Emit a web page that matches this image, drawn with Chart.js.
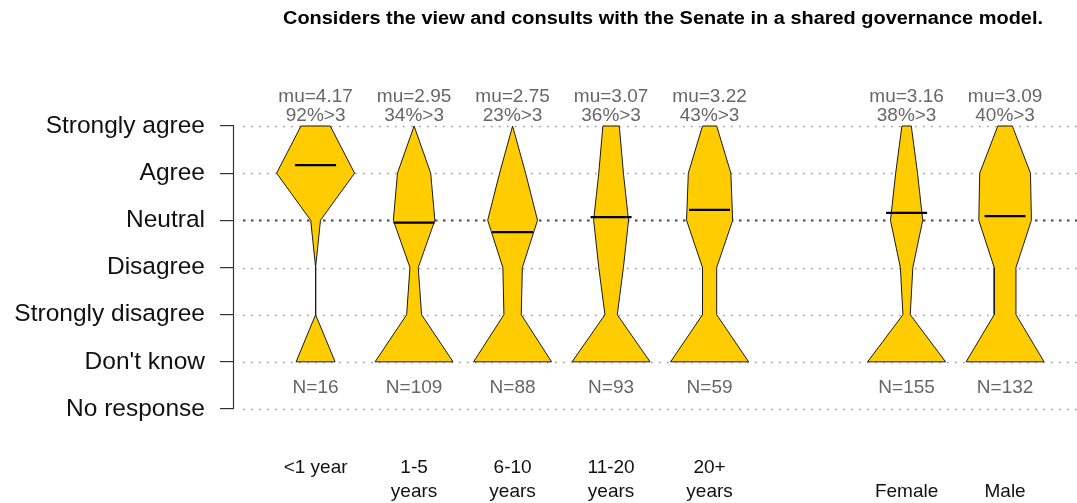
<!DOCTYPE html>
<html><head><meta charset="utf-8">
<script src="https://cdn.jsdelivr.net/npm/chart.js@4/dist/chart.umd.min.js"></script>
<style>html,body{margin:0;padding:0;background:#fff;} #wrap{width:1077px;height:503px;position:relative;}</style>
</head><body><div id="wrap"><canvas id="c" width="1077" height="503"></canvas></div>
<script>
const chartTitle = 'Considers the view and consults with the Senate in a shared governance model.';
const levelLabels = ['No response', "Don't know", 'Strongly disagree', 'Disagree', 'Neutral', 'Agree', 'Strongly agree'];
const levelValues = [-1, 0, 1, 2, 3, 4, 5];
const categories = ['<1 year', '1-5\nyears', '6-10\nyears', '11-20\nyears', '20+\nyears', '\nFemale', '\nMale'];
const xPositions = [1, 2, 3, 4, 5, 7, 8];
const countDontKnow = [4, 47, 36, 38, 22, 75, 43];
const countStronglyDisagree = [0, 9, 8, 6, 4, 7, 12];
const countDisagree = [0, 5, 9, 12, 4, 12, 12];
const countNeutral = [1, 25, 23, 17, 13, 31, 29];
const countAgree = [8, 20, 12, 12, 12, 21, 28];
const countStronglyAgree = [3, 0, 0, 8, 4, 9, 8];
const means = [4.17, 2.95, 2.75, 3.07, 3.22, 3.16, 3.09];
const pctAbove3 = [92, 34, 23, 36, 43, 38, 40];
const nTotal = [16, 109, 88, 93, 59, 155, 132];

const MAXW = 0.396;   // half-width of widest level, in x units
const MEANW = 0.208;  // half-width of mean bar
const FONT = "'Liberation Sans', Arial, Helvetica, sans-serif";

const datasets = [];
xPositions.forEach((xc, i) => {
  const counts = [countDontKnow[i], countStronglyDisagree[i], countDisagree[i], countNeutral[i], countAgree[i], countStronglyAgree[i]];
  const maxC = Math.max(...counts);
  const hw = counts.map(c => MAXW * c / maxC);
  const pts = [];
  for (let l = 5; l >= 0; l--) pts.push({x: xc - hw[l], y: l});
  for (let l = 0; l <= 5; l++) pts.push({x: xc + hw[l], y: l});
  pts.push({x: xc - hw[5], y: 5});
  datasets.push({
    data: pts, borderColor: '#1a1a1a', borderWidth: 1, backgroundColor: '#FFCC00',
    fill: 'shape', pointRadius: 0, tension: 0, order: 2
  });
});
xPositions.forEach((xc, i) => {
  datasets.push({
    data: [{x: xc - MEANW, y: means[i]}, {x: xc + MEANW, y: means[i]}],
    borderColor: '#000', borderWidth: 2.2, fill: false, pointRadius: 0, order: 1
  });
});

const decor = {
  id: 'decor',
  beforeDatasetsDraw(chart) {
    const {ctx, scales: {y}} = chart;
    ctx.save();
    levelValues.forEach(v => {
      const py = Math.round(y.getPixelForValue(v)) + 0.5;
      const neutral = v === 3;
      ctx.beginPath();
      ctx.setLineDash(neutral ? [2.5, 5.5] : [1.6, 6.4]);
      ctx.strokeStyle = neutral ? '#444' : '#9a9a9a';
      ctx.lineWidth = neutral ? 2 : 1.3;
      ctx.moveTo(243, py); ctx.lineTo(1077, py);
      ctx.stroke();
    });
    ctx.restore();
  },
  afterDraw(chart) {
    const {ctx, chartArea, scales: {x, y}} = chart;
    ctx.save();
    ctx.beginPath();
    ctx.strokeStyle = '#333'; ctx.lineWidth = 1.2;
    const ax = Math.round(chartArea.left) - 0.5;
    ctx.moveTo(ax, y.getPixelForValue(5)); ctx.lineTo(ax, y.getPixelForValue(-1));
    ctx.stroke();
    ctx.font = 'bold 18px ' + FONT;
    const w = ctx.measureText(chartTitle).width;
    ctx.translate(663, 19);
    ctx.scale(760 / w, 1);
    ctx.fillStyle = '#000'; ctx.textAlign = 'center'; ctx.textBaseline = 'middle';
    ctx.fillText(chartTitle, 0, 0);
    ctx.restore();
    ctx.save();
    ctx.font = '19px ' + FONT; ctx.fillStyle = '#666'; ctx.textAlign = 'center'; ctx.textBaseline = 'middle';
    xPositions.forEach((xc, i) => {
      const px = x.getPixelForValue(xc);
      ctx.fillText('mu=' + means[i].toFixed(2), px, 97);
      ctx.fillText(pctAbove3[i] + '%>3', px, 116);
      ctx.fillText('N=' + nTotal[i], px, 388);
    });
    ctx.restore();
  }
};

new Chart(document.getElementById('c'), {
  type: 'line',
  data: {datasets},
  plugins: [decor],
  options: {
    responsive: false, animation: false,
    layout: {padding: {top: 83.5, left: 0, right: 0, bottom: 0}},
    plugins: {legend: {display: false}, tooltip: {enabled: false}, title: {display: false}},
    scales: {
      x: {
        type: 'linear', min: 0.1716, max: 8.730,
        border: {display: false}, grid: {display: false, drawTicks: false},
        afterBuildTicks: s => { s.ticks = xPositions.map(v => ({value: v})); },
        afterFit: s => { s.height = 63; s.paddingLeft = 0; s.paddingRight = 0; },
        ticks: {
          autoSkip: false, maxRotation: 0, minRotation: 0, padding: 16, color: '#111',
          font: {family: FONT, size: 19, lineHeight: 1.26},
          callback: (v, i) => categories[i].split('\n')
        }
      },
      y: {
        type: 'linear', min: -1.657, max: 5.901,
        border: {display: false},
        grid: {drawOnChartArea: false, drawTicks: true, tickLength: 14, color: '#333', lineWidth: 1.2},
        afterBuildTicks: s => { s.ticks = levelValues.map(v => ({value: v})); },
        afterFit: s => { s.width = 234; s.paddingTop = 0; s.paddingBottom = 0; },
        ticks: {
          padding: 15, color: '#111', font: {family: FONT, size: 24.5},
          callback: (v, i) => levelLabels[i]
        }
      }
    }
  }
});
</script></body></html>
